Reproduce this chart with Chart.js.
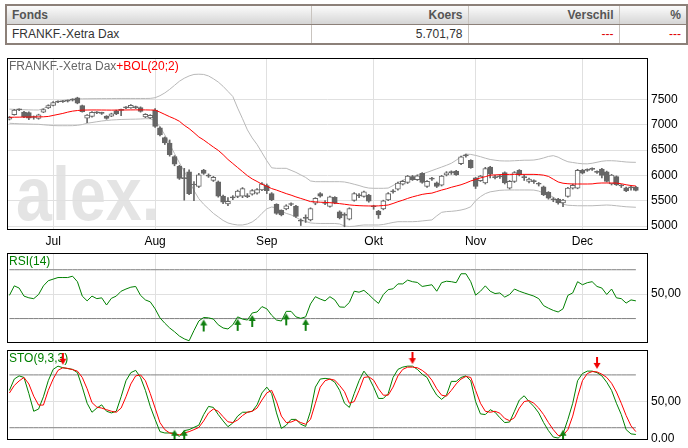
<!DOCTYPE html>
<html>
<head>
<meta charset="utf-8">
<title>FRANKF.-Xetra Dax</title>
<script src="https://cdn.jsdelivr.net/npm/chart.js@4.4.1/dist/chart.umd.min.js"></script>
<style>
  body { margin: 0; background: #fff; font-family: 'Liberation Sans', Arial, sans-serif; }
  #page { position: relative; width: 688px; height: 448px; overflow: hidden; }
  #quote { position: absolute; left: 5px; top: 4px; width: 681px; border-collapse: collapse; table-layout: fixed;
           font-size: 12px; border: 2px solid #8c8079; }
  #quote th, #quote td { height: 18px; padding: 0 5px; white-space: nowrap; border-left: 1px solid #c9c4bf; }
  #quote th { background: linear-gradient(#fbfbfb, #d5d5d5); color: #555; font-weight: bold; text-align: right;
              border-bottom: 1px solid #8c8079; }
  #quote td { color: #333; text-align: right; }
  #quote .name { text-align: left; }
  #quote .neg { color: #e00000; }
  canvas { position: absolute; left: 0; }
</style>
</head>
<body>
<div id="page">
  <table id="quote">
    <colgroup><col style="width:305px"><col style="width:157px"><col style="width:151px"><col style="width:68px"></colgroup>
    <tr><th class="name">Fonds</th><th>Koers</th><th>Verschil</th><th>%</th></tr>
    <tr><td class="name" id="qName"></td><td id="qLast"></td><td class="neg" id="qChange"></td><td class="neg" id="qPct"></td></tr>
  </table>
  <canvas id="priceChart" width="688" height="200" style="top:50px"></canvas>
  <canvas id="rsiChart" width="688" height="100" style="top:248px"></canvas>
  <canvas id="stoChart" width="688" height="103" style="top:345px"></canvas>
</div>
<script>
// Quote row
const quoteName = 'FRANKF.-Xetra Dax';
const quoteLast = '5.701,78';
const quoteChange = '---';
const quotePct = '---';

// Daily candles, 20 Jun 2011 - 16 Dec 2011
const opens = [
  7110,7200,7295,7250,7240,7145,7125,7250,7335,7385,
  7450,7460,7465,7485,7535,7380,7130,7165,7235,7230,
  7170,7170,7275,7285,7335,7335,7345,7340,7155,7135,
  7290,6940,6745,6640,6370,6180,5935,6070,5810,5780,
  6105,5985,5900,5875,5590,5435,5555,5585,5590,5585,
  5630,5650,5715,5800,5640,5430,5310,5340,5425,5395,
  5095,5150,5120,5450,5640,5445,5385,5565,5280,5210,
  5135,5505,5595,5585,5610,5385,5295,5340,5515,5675,
  5730,5825,5860,5975,5915,6040,5780,5925,5855,5805,
  6010,6055,6085,6230,6385,6300,5950,5895,5850,6165,
  5960,5970,6055,5750,5880,6100,5960,5880,5880,5830,
  5775,5665,5520,5530,5455,5585,5750,5750,6100,6100,
  6120,6065,6125,6070,5830,5975,5795,5755,5755,5770
];
const highs = [
  7165,7305,7315,7265,7255,7175,7210,7315,7395,7460,
  7475,7480,7490,7515,7545,7390,7200,7260,7260,7250,
  7180,7230,7290,7310,7360,7400,7370,7355,7220,7200,
  7320,6960,6760,6700,6390,6200,6140,6110,5880,6040,
  6120,6030,5980,5890,5610,5560,5600,5710,5760,5640,
  5720,5740,5860,5830,5660,5440,5320,5420,5460,5410,
  5140,5220,5360,5560,5660,5500,5590,5580,5300,5260,
  5360,5660,5640,5690,5625,5410,5310,5510,5660,5720,
  5870,5900,6000,6000,6010,6055,5900,5960,5870,6000,
  6075,6090,6100,6380,6420,6310,5960,6000,6160,6180,
  6000,6010,6070,5900,6075,6115,6010,5945,5910,5860,
  5790,5680,5560,5545,5525,5765,5830,6120,6120,6130,
  6150,6090,6140,6085,6020,5990,5820,5770,5790,5785
];
const lows = [
  7095,7190,7280,7140,7100,7110,7110,7240,7320,7375,
  7435,7440,7450,7470,7415,7250,7040,7150,7220,7205,
  7110,7160,7200,7180,7320,7325,7320,7250,7140,7120,
  6950,6780,6610,6380,6190,5920,5510,5620,5500,5760,
  6020,5960,5880,5570,5440,5400,5520,5560,5560,5560,
  5610,5630,5700,5640,5500,5230,5200,5320,5400,5170,
  5010,5070,5100,5420,5570,5420,5370,5440,5140,4985,
  5120,5490,5560,5570,5470,5330,5150,5320,5500,5650,
  5710,5810,5840,5900,5900,5845,5760,5900,5760,5790,
  5990,6020,6000,6210,6360,6140,5740,5880,5830,5950,
  5930,5940,5830,5730,5860,5990,5900,5850,5840,5790,
  5600,5530,5480,5430,5380,5570,5730,5735,6030,6080,
  6100,6040,5950,5870,5810,5800,5760,5680,5710,5695
];
const closes = [
  7150,7290,7300,7160,7130,7150,7195,7300,7380,7440,
  7455,7455,7470,7490,7425,7260,7190,7245,7240,7225,
  7125,7215,7215,7290,7340,7385,7340,7265,7205,7185,
  6970,6800,6640,6410,6220,5940,5950,5640,5820,6010,
  6040,5990,5960,5590,5470,5490,5560,5690,5740,5580,
  5700,5720,5835,5700,5520,5250,5220,5400,5430,5190,
  5100,5155,5345,5545,5590,5450,5575,5455,5160,5215,
  5345,5640,5600,5675,5490,5380,5220,5495,5640,5680,
  5850,5885,5985,5915,5990,5860,5885,5930,5780,5985,
  6050,6060,6015,6365,6390,6155,5780,5985,6135,6025,
  5955,5975,5850,5885,6055,6015,5955,5925,5876,5825,
  5620,5550,5515,5455,5510,5750,5805,6100,6045,6105,
  6125,6060,6000,5880,6005,5815,5790,5695,5760,5701.78
];

// BOL(20;2): middle (red), upper and lower band (grey)
const bolMid = [
  7148,7150,7151,7153,7154,7156,7157,7158,7165,7185,
  7205,7225,7250,7270,7282,7290,7292,7293,7293,7292,
  7291,7290,7291,7292,7293,7294,7295,7295,7294,7292,
  7290,7250,7205,7160,7120,7070,6990,6925,6845,6760,
  6700,6630,6560,6495,6410,6315,6235,6155,6075,5995,
  5930,5880,5825,5785,5740,5710,5675,5640,5610,5575,
  5545,5515,5482,5478,5470,5466,5461,5452,5442,5430,
  5417,5408,5402,5398,5396,5395,5398,5405,5415,5445,
  5480,5510,5545,5575,5600,5625,5640,5650,5680,5710,
  5735,5765,5790,5815,5850,5890,5920,5950,5975,6005,
  6010,6015,6018,6020,6020,6020,6020,6020,6020,6015,
  6005,5980,5925,5870,5845,5835,5830,5830,5830,5830,
  5832,5845,5850,5850,5850,5848,5835,5815,5800,5790
];
const bolUpper = [
  7310,7305,7300,7298,7295,7293,7292,7320,7370,7425,
  7455,7480,7495,7510,7512,7514,7515,7516,7517,7518,
  7518,7519,7520,7520,7520,7520,7520,7520,7520,7522,
  7535,7575,7630,7700,7780,7860,7920,7965,7995,8000,
  7995,7965,7910,7845,7760,7660,7560,7330,7120,6900,
  6740,6610,6450,6290,6150,6140,6140,6140,6100,6060,
  6010,5960,5890,5876,5876,5876,5876,5876,5876,5870,
  5850,5825,5800,5770,5750,5745,5745,5745,5750,5800,
  5860,5905,5940,5975,6005,6030,6060,6095,6130,6165,
  6200,6240,6300,6370,6420,6415,6395,6370,6340,6315,
  6300,6288,6285,6285,6290,6295,6300,6300,6304,6320,
  6345,6375,6390,6360,6310,6270,6255,6240,6230,6228,
  6240,6260,6280,6290,6290,6285,6275,6265,6260,6258
];
const bolLower = [
  7030,7025,7020,7018,7015,7012,7010,7000,6992,6985,
  6982,6982,6982,6983,6990,7005,7030,7045,7060,7075,
  7085,7095,7100,7105,7108,7110,7112,7115,7120,7120,
  7080,6960,6800,6620,6430,6250,6080,5900,5700,5540,
  5430,5340,5250,5180,5110,5060,5035,5020,5020,5040,
  5080,5150,5250,5340,5375,5360,5290,5250,5220,5170,
  5120,5090,5060,5053,5050,5050,5050,5050,5040,5000,
  4990,4995,5010,5020,5020,5020,5020,5030,5050,5070,
  5085,5085,5085,5085,5090,5100,5110,5120,5200,5270,
  5285,5290,5300,5316,5340,5380,5500,5580,5640,5675,
  5690,5705,5710,5712,5712,5712,5712,5712,5710,5690,
  5650,5620,5570,5500,5430,5410,5405,5400,5400,5400,
  5400,5405,5410,5415,5410,5400,5390,5380,5375,5370
];

// RSI(14)
const rsi = [
  49,56.8,55,48.4,47,46.3,49.7,56.8,61,62.3,
  63.6,63.6,63.6,64.7,60.2,48.4,44.5,48.4,46.3,47,
  41.1,46.6,48.4,52.4,54.2,55.7,56.3,49,45.3,43.7,
  38,30.6,26.2,22.3,19.2,15.7,13.4,11.8,20.2,28,
  30.9,30.6,29.6,24.9,22.3,21.5,24.9,31.4,29.6,28.8,
  34.6,35.4,39.8,38,32.7,28.8,28,35.9,35.9,31.4,
  30.2,31.4,42,47.9,46,44.5,47.9,45.3,39.5,39.3,
  43.2,52.4,51.6,53.1,49.7,45.8,42.4,49.7,53.7,54.4,
  58.4,58.4,61.5,60.2,59.6,56.3,57,57.7,52.4,59.4,
  60.6,60.2,59.4,66.7,66.7,60.2,49.2,52.4,56.8,52.4,
  50.5,51,47.6,49.7,54.2,52.4,51,49.7,48.4,46.3,
  40.6,38.5,36.7,35.4,38,49,51,60.2,57.7,59.4,
  60.2,56.3,55,49.7,54.2,47,46.3,42.7,45.3,44.5
];
const rsiLevels = [70, 30];
const rsiBuyIdx = [40, 47, 50, 57, 61];

// STO(9,3,3): %K (green) and %D (red)
const stoK = [
  64.5,79.5,83.7,81.6,60.3,36.8,39.7,56,77.3,92.3,
  96.6,94.5,93.5,92.3,88,68.8,47.4,35.5,41,45.3,
  36.8,34.6,36.8,56,77.3,88,91,81.6,64.5,43.2,
  26,9.8,8,8,8,3.4,11.1,12.4,15.4,18.3,
  32.4,43.2,41.9,32.4,24,16.3,21.2,30.4,35.5,35.5,
  36.8,45.3,61.1,68.8,60.3,34.6,14.1,18.3,26,26,
  19.6,16.7,36.8,68.8,79.5,80.4,79.5,75.3,64.5,47.4,
  41.9,60.3,77.3,90,81.6,68.8,53.8,53.8,60.3,81.6,
  92.3,95.3,96.6,96.6,92.3,85.9,81.6,68.8,58.1,52.6,
  58.1,76.4,76.4,81.6,83.7,77.3,49.6,33.3,32.4,38.9,
  35.5,28.2,21.8,22.5,36.8,51.7,57.3,49.6,43.2,34.6,
  21.8,11.1,2.6,1.3,6.8,26,47.4,77.3,86.8,90,
  90,88,83.7,75.3,64.5,47.4,32.4,12.4,6.8,6
];
const stoD = [
  61,71,77,81.6,73,56.8,45,45,64.5,79.5,
  91,94.5,93.5,92,90,81.6,66.6,48.3,42.3,41,
  38.9,36.8,35.5,41,56,73,83.7,85,77.3,60.3,
  41,21.8,12.4,8,6.8,5.5,8,9.8,12.4,15.4,
  24,34.6,39.8,36.8,29.6,22.8,21.8,25.2,31.1,35.5,
  36.8,41,51.7,61.1,64.5,49.6,30.4,21.8,22.5,25.2,
  21.8,19.6,26,47.4,68.8,77.3,79.5,78,71,62.8,
  47.4,49.6,64.5,81.6,82.5,78,66.6,58.1,58.1,68.8,
  83.7,92.3,95.3,95.3,94.5,91,85.9,78,66.6,58.1,
  56.8,64.5,73,79.5,82.9,81.6,64.5,47.4,36.8,35.5,
  36.8,34.2,27.3,24.3,28.2,41,49.6,50.9,47.4,41,
  32.4,21.8,12.4,4.7,4.7,12.4,30.4,56,77.3,86.8,
  89.4,89,85.9,81.6,73.9,62.3,47.4,31.1,17.5,9.8
];
const stoLevels = [85, 15];
const stoSellIdx = [11, 83, 121];
const stoBuyIdx = [34, 36, 114];

// Axis ticks
const priceTicks = [5000, 5500, 6000, 6500, 7000, 7500];
const rsiTicks = [[50, '50,00']];
const stoTicks = [[0, '0.00'], [50, '50,00']];
const monthNames = ['Jan','Feb','Mrt','Apr','Mei','Jun','Jul','Aug','Sep','Okt','Nov','Dec'];

document.getElementById('qName').textContent = quoteName;
document.getElementById('qLast').textContent = quoteLast;
document.getElementById('qChange').textContent = quoteChange;
document.getElementById('qPct').textContent = quotePct;

// trading days from Mon 20 Jun 2011, plus two empty slots on the right
const slotCount = closes.length + 2;
const days = [];
for (let t = Date.UTC(2011, 5, 20); days.length < slotCount; t += 86400000) {
    const d = new Date(t);
    if (d.getUTCDay() !== 0 && d.getUTCDay() !== 6) days.push(d);
}
const labels = days.map(d => d.toISOString().slice(0, 10));
const monthTicks = days.map((d, i) =>
    i > 0 && d.getUTCMonth() !== days[i - 1].getUTCMonth() ? monthNames[d.getUTCMonth()] : '');

Chart.defaults.font.family = "'Liberation Sans', Arial, sans-serif";
Chart.defaults.font.size = 12;
Chart.defaults.color = '#000';

const monthGrid = ctx => monthTicks[ctx.index] ? '#e0e0e0' : 'rgba(0,0,0,0)';
const levelLine = v => closes.map(() => v);
const pick = (src, idx) => src.map((v, i) => idx.includes(i) ? v : null);

// small arrow pictures; the tip sits a few pixels off the centre
function arrowImage(color, up) {
    const c = document.createElement('canvas');
    c.width = 8; c.height = 30;
    const g = c.getContext('2d');
    g.fillStyle = color;
    g.beginPath();
    if (up) { g.moveTo(4, 17); g.lineTo(0.5, 23); g.lineTo(7.5, 23); }
    else { g.moveTo(4, 12); g.lineTo(0.5, 6); g.lineTo(7.5, 6); }
    g.closePath();
    g.fill();
    if (up) g.fillRect(3, 23, 2, 6); else g.fillRect(3, 0, 2, 6);
    return c;
}
const buyArrow = arrowImage('#108010', true);
const sellArrow = arrowImage('#f00000', false);

// black frame round the plot area
const frame = {
    id: 'frame',
    afterDraw(chart) {
        const a = chart.chartArea, c = chart.ctx;
        c.save();
        c.strokeStyle = '#000';
        c.lineWidth = 1;
        c.strokeRect(Math.round(a.left) + 0.5, Math.round(a.top) + 0.5,
                     Math.round(a.right - a.left) - 1, Math.round(a.bottom - a.top) - 1);
        c.restore();
    }
};

function panelTitle(parts) {
    return {
        id: 'panelTitle',
        beforeDatasetsDraw(chart) {
            const c = chart.ctx;
            let x = chart.chartArea.left + 2;
            c.save();
            c.font = "12px 'Liberation Sans', Arial, sans-serif";
            c.textBaseline = 'middle';
            parts.forEach(p => {
                c.fillStyle = p.color;
                c.fillText(p.text, x, chart.chartArea.top + 8.5);
                x += c.measureText(p.text).width;
            });
            c.restore();
        }
    };
}

const watermark = {
    id: 'watermark',
    beforeDraw(chart) {
        const c = chart.ctx;
        c.save();
        c.fillStyle = '#e4e4e4';
        c.font = "bold 76px 'Liberation Sans', Arial, sans-serif";
        c.translate(16, 170);
        c.scale(0.85, 1);
        c.fillText('alex.', 0, 0);
        c.restore();
    }
};

function xScale(showLabels) {
    return {
        offset: true,
        grid: { offset: false, color: monthGrid, drawTicks: false },
        border: { display: false },
        ticks: { display: showLabels, autoSkip: false, maxRotation: 0, minRotation: 0, padding: 4,
                 callback: (v, i) => monthTicks[i] },
        afterFit: s => { s.height = showLabels ? 20 : 0; s.paddingLeft = 0; s.paddingRight = 0; }
    };
}

function yScale(min, max, ticks) {
    return {
        position: 'right',
        min: min,
        max: max,
        grid: { color: '#e0e0e0', drawTicks: false },
        border: { display: false },
        afterBuildTicks: s => { s.ticks = ticks.map(t => ({ value: t[0] })); },
        ticks: { padding: 3, callback: v => (ticks.find(t => t[0] === v) || [0, ''])[1] },
        afterFit: s => { s.width = 40; s.paddingTop = 0; s.paddingBottom = 0; }
    };
}

const baseOptions = {
    responsive: false,
    animation: false,
    plugins: { legend: { display: false }, tooltip: { enabled: false } }
};

// Price panel: candles + Bollinger bands
new Chart(document.getElementById('priceChart'), {
    type: 'bar',
    data: {
        labels: labels,
        datasets: [
            { type: 'line', data: bolMid, borderColor: '#ff0000', borderWidth: 1, pointRadius: 0, order: 0 },
            { type: 'bar', data: opens.map((o, i) => [o, closes[i]]),
              backgroundColor: ctx => closes[ctx.dataIndex] - opens[ctx.dataIndex] > 15 ? '#ffffff' : '#666666',
              borderColor: '#666666', borderWidth: 1, borderSkipped: false,
              barThickness: 5, minBarLength: 1, grouped: false, order: 1 },
            { type: 'bar', data: lows.map((l, i) => [l, highs[i]]), backgroundColor: '#666666',
              barThickness: 1, grouped: false, order: 2 },
            { type: 'line', data: bolUpper, borderColor: '#b8b8b8', borderWidth: 1, pointRadius: 0, order: 3 },
            { type: 'line', data: bolLower, borderColor: '#b8b8b8', borderWidth: 1, pointRadius: 0, order: 3 }
        ]
    },
    options: Object.assign({}, baseOptions, {
        layout: { padding: { left: 7, top: 8, right: 0, bottom: 0 } },
        scales: {
            x: xScale(true),
            y: yScale(4921, 8320, priceTicks.map(v => [v, String(v)]))
        }
    }),
    plugins: [watermark, panelTitle([{ text: 'FRANKF.-Xetra Dax', color: '#666666' },
                                      { text: '+BOL(20;2)', color: '#ff0000' }]), frame]
});

// RSI panel
new Chart(document.getElementById('rsiChart'), {
    type: 'line',
    data: {
        labels: labels,
        datasets: [
            { data: pick(rsi, rsiBuyIdx), showLine: false, pointStyle: buyArrow, pointRadius: 4, order: 0 },
            { data: rsi, borderColor: '#008000', borderWidth: 1, pointRadius: 0, order: 1 },
            { data: levelLine(rsiLevels[0]), borderColor: '#808080', borderWidth: 1, pointRadius: 0, order: 2 },
            { data: levelLine(rsiLevels[1]), borderColor: '#808080', borderWidth: 1, pointRadius: 0, order: 2 }
        ]
    },
    options: Object.assign({}, baseOptions, {
        layout: { padding: { left: 7, top: 2, right: 0, bottom: 4 } },
        scales: { x: xScale(false), y: yScale(10, 83.7, rsiTicks) }
    }),
    plugins: [panelTitle([{ text: 'RSI(14)', color: '#008000' }]), frame]
});

// Stochastic panel
new Chart(document.getElementById('stoChart'), {
    type: 'line',
    data: {
        labels: labels,
        datasets: [
            { data: pick(stoD, stoSellIdx), showLine: false, pointStyle: sellArrow, pointRadius: 4, order: 0 },
            { data: pick(levelLine(stoLevels[1]), stoBuyIdx), showLine: false, pointStyle: buyArrow, pointRadius: 4, order: 0 },
            { data: stoD, borderColor: '#ff0000', borderWidth: 1, pointRadius: 0, order: 1 },
            { data: stoK, borderColor: '#008000', borderWidth: 1, pointRadius: 0, order: 2 },
            { data: levelLine(stoLevels[0]), borderColor: '#808080', borderWidth: 1, pointRadius: 0, order: 3 },
            { data: levelLine(stoLevels[1]), borderColor: '#808080', borderWidth: 1, pointRadius: 0, order: 3 }
        ]
    },
    options: Object.assign({}, baseOptions, {
        layout: { padding: { left: 7, top: 2, right: 0, bottom: 8 } },
        scales: { x: xScale(false), y: yScale(-1.3, 118, stoTicks) }
    }),
    plugins: [panelTitle([{ text: 'STO(9,3,3)', color: '#008000' }]), frame]
});
</script>
</body>
</html>
